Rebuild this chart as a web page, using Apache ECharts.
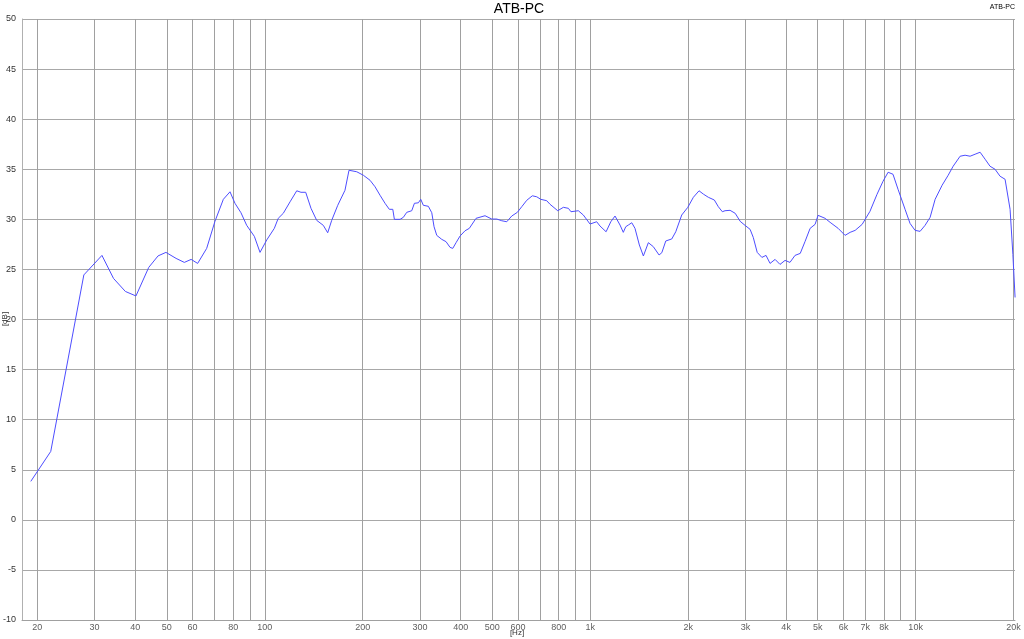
<!DOCTYPE html>
<html>
<head>
<meta charset="utf-8">
<script src="https://cdn.jsdelivr.net/npm/echarts@6/dist/echarts.min.js"></script>
<style>html,body{margin:0;padding:0;background:#fff}#c{width:1024px;height:639px}</style>
</head>
<body>
<div id="c"></div>
<script>
const freqs = [19.1,22.0,27.8,31.6,34.3,37.3,40.2,44.0,47.0,49.7,53.4,56.6,59.4,62.2,66.3,70.3,74.6,78.2,81.0,84.5,88.0,92.9,96.7,101.4,107,110,114,119.6,125.4,129.2,133.6,138.7,144.4,151.3,156.1,160.6,167.6,176.4,181.5,191.7,200.9,210.6,218.2,226.1,234.2,241.4,247.4,250.2,260.5,266.6,273.1,282.9,288.3,296.5,301.5,307.1,318.2,326.0,331.3,337.7,349.9,360.6,371.0,378.2,387.1,398.1,412.5,425.2,445.9,475.2,498.3,516.3,534.9,554.1,574.1,597.3,616.2,638.3,664.1,685.1,704.7,735.2,752.7,794.8,827,857,873,919.5,952.6,998.9,1047,1072,1119,1157,1192,1235,1264,1286,1310,1342,1373,1416,1457,1509,1563,1628,1660,1707,1781,1832,1911,1995,2075,2160,2227,2307,2407,2476,2547,2596,2690,2790,2890,2990,3100,3170,3260,3370,3470,3570,3700,3830,3970,4110,4260,4420,4575,4740,4910,5015,5270,5460,5780,6070,6290,6520,6850,7240,7610,7940,8230,8520,8830,9280,9610,9960,10320,10690,11080,11480,12060,12590,13040,13700,14190,14700,15230,15780,16350,16930,17540,18180,18830,19510,19900,20210];
const levels = [3.84,6.83,24.45,26.4,24.1,22.8,22.35,25.2,26.35,26.7,26.1,25.7,26.0,25.6,27.1,29.8,32.0,32.75,31.6,30.66,29.4,28.3,26.7,27.94,29.1,30.1,30.6,31.75,32.85,32.7,32.7,31.1,29.9,29.4,28.66,29.9,31.4,32.9,34.9,34.75,34.4,33.9,33.25,32.4,31.6,31.0,31.0,30.0,30.0,30.2,30.7,30.86,31.6,31.65,32.0,31.4,31.3,30.66,29.26,28.4,28.0,27.77,27.2,27.1,27.67,28.33,28.86,29.1,30.1,30.36,30.03,30.03,29.86,29.76,30.33,30.7,31.26,31.9,32.35,32.25,32.0,31.86,31.5,30.86,31.2,31.1,30.76,30.86,30.43,29.53,29.76,29.33,28.76,29.76,30.33,29.43,28.7,29.26,29.43,29.66,29.1,27.44,26.34,27.67,27.27,26.44,26.67,27.84,28.04,28.76,30.43,31.2,32.2,32.85,32.52,32.2,31.93,31.26,30.76,30.86,30.9,30.6,29.8,29.4,29.0,28.2,26.7,26.2,26.4,25.6,26.0,25.5,25.9,25.7,26.4,26.6,27.8,29.1,29.5,30.4,30.1,29.7,29.1,28.4,28.7,28.9,29.5,30.8,32.5,33.8,34.7,34.5,33.0,31.0,29.6,28.9,28.8,29.4,30.2,32.0,33.4,34.4,35.3,36.3,36.4,36.3,36.5,36.7,36.0,35.3,35.0,34.3,34.0,31.0,26.5,22.2];
const gridFreqs = [20,30,40,50,60,70,80,90,100,200,300,400,500,600,700,800,900,1000,2000,3000,4000,5000,6000,7000,8000,9000,10000,20000];
const tickFreqs = [20,30,40,50,60,80,100,200,300,400,500,600,800,1000,2000,3000,4000,5000,6000,7000,8000,10000,20000];
const tickLabels = ['20','30','40','50','60','80','100','200','300','400','500','600','800','1k','2k','3k','4k','5k','6k','7k','8k','10k','20k'];
const titleText = 'ATB-PC';

const FONT = 'Liberation Sans, Arial, sans-serif';
const chart = echarts.init(document.getElementById('c'), null, {renderer: 'canvas'});
chart.setOption({
  animation: false,
  backgroundColor: '#fff',
  grid: {left: 22, right: 9, top: 19, bottom: 19, containLabel: false},
  xAxis: {
    type: 'log', logBase: 10, min: 17.95, max: 20200,
    axisLine: {show: true, onZero: false, lineStyle: {color: '#a0a0a0', width: 1}},
    axisTick: {show: false}, axisLabel: {show: false}, splitLine: {show: false}
  },
  yAxis: {
    type: 'value', min: -10, max: 50, interval: 5,
    axisLine: {show: true, lineStyle: {color: '#b0b0b0', width: 1}},
    axisTick: {show: false},
    axisLabel: {fontSize: 9, color: '#333', margin: 6, fontFamily: FONT},
    splitLine: {show: true, lineStyle: {color: '#a8a8a8', width: 1}}
  },
  graphic: [
    {type: 'text', left: 'center', x: 519, top: 2, style: {text: titleText, font: '14px ' + FONT, fill: '#000', textAlign: 'center'}, position: [519, 2], left: null},
    {type: 'text', x: 1015, y: 4, style: {text: titleText, font: '7px ' + FONT, fill: '#000', textAlign: 'right'}},
    {type: 'text', x: 5, y: 319, rotation: Math.PI / 2, style: {text: '[dB]', font: '8px ' + FONT, fill: '#333', textAlign: 'center', textVerticalAlign: 'middle'}},
    {type: 'text', x: 517, y: 629, style: {text: '[Hz]', font: '8px ' + FONT, fill: '#333', textAlign: 'center'}}
  ],
  series: [
    {
      type: 'scatter', z: 1, silent: true,
      data: tickFreqs.map((f, i) => ({value: [f, -10], name: tickLabels[i]})),
      symbolSize: 0,
      label: {show: true, position: 'bottom', distance: 3, formatter: p => p.name, fontSize: 9, color: '#333', fontFamily: FONT},
      markLine: {
        silent: true, symbol: 'none', animation: false,
        label: {show: false},
        lineStyle: {type: 'solid', color: '#a0a0a0', width: 1},
        emphasis: {disabled: true},
        data: gridFreqs.map(f => ({xAxis: f}))
      }
    },
    {
      type: 'line', z: 5, silent: true, showSymbol: false, symbol: 'none',
      data: freqs.map((f, i) => [f, levels[i]]),
      lineStyle: {color: '#4d4dff', width: 1}
    }
  ]
});
</script>
</body>
</html>
